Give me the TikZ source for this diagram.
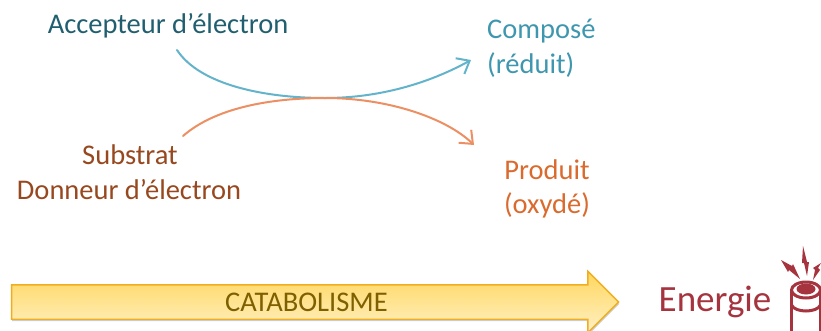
\documentclass[tikz,border=0pt]{standalone}
\usepackage{fontspec}
\setmainfont{Carlito}
\usetikzlibrary{arrows.meta,shapes.arrows,shadows}
\definecolor{accept}{HTML}{215F70}
\definecolor{compo}{HTML}{3F97AF}
\definecolor{subst}{HTML}{97481F}
\definecolor{prod}{HTML}{DA6A2E}
\definecolor{ener}{HTML}{A5343F}
\definecolor{cata}{HTML}{7F6000}
\definecolor{bluel}{HTML}{63B3CB}
\definecolor{orangel}{HTML}{EC8F62}
\definecolor{goldtop}{HTML}{FFD75E}
\definecolor{goldbot}{HTML}{FFF0C4}
\definecolor{goldline}{HTML}{F0AE1E}
\tikzset{
  lab/.style={font=\fontsize{28.5}{28.5}\selectfont, inner sep=0pt},
  flow/.style={line width=2pt, line cap=round, -{Straight Barb[length=11pt,width=18pt,line width=2pt]}},
  catarrow/.style={single arrow, draw=goldline, line width=1.4pt,
    top color=goldtop, bottom color=goldbot,
    font=\fontsize{28.5}{28.5}\selectfont, text=cata,
    text height=25.5pt, text depth=7.5pt, inner xsep=0pt, inner ysep=0pt,
    minimum height=607pt, minimum width=60pt,
    single arrow head extend=13.5pt, single arrow head indent=0pt,
    drop shadow={shadow xshift=0.5pt,shadow yshift=-2pt,fill=black!40}},
  bolt/.style={fill=ener, draw=none},
  batt/.style={draw=ener, line width=3pt},
}

\begin{document}
\begin{tikzpicture}[x=1pt,y=-1pt]
  \useasboundingbox (0,0) rectangle (821,330);
  % texts
  \node[lab,text=accept] (accepteur) at (168,26) {Accepteur d’électron};
  \node[lab,text=compo,anchor=west] (compose) at (487,31) {Composé};
  \node[lab,text=compo,anchor=west] (reduit) at (487,65) {(réduit)};
  \node[lab,text=subst] (substrat) at (130,155) {Substrat};
  \node[lab,text=subst] (donneur) at (129,190) {Donneur d’électron};
  \node[lab,text=prod] (produit) at (547,170) {Produit};
  \node[lab,text=prod] (oxyde) at (547,205) {(oxydé)};
  % curves
  \coordinate (bstart) at (177,50);
  \coordinate (bend) at (471,60);
  \coordinate (ostart) at (183,136);
  \coordinate (oend) at (474,145);
  \coordinate (mid) at (325,98);
  \draw[flow,bluel] (bstart) .. controls (200,85) and (265,98) .. (mid) .. controls (385,98) and (435,80) .. (bend);
  \draw[flow,orangel] (ostart) .. controls (215,108) and (270,98) .. (mid) .. controls (388,98) and (446,118) .. (oend);
  % big arrow
  \node[catarrow] (catabo) at (306.5,302) {CATABOLISME};
  \node[lab,text=ener,font=\fontsize{37}{37}\selectfont] (energie) at (715,302) {Energie};
  % battery
  \draw[batt,fill=white] (791.5,290) -- (791.5,336) -- (820.5,336) -- (820.5,290);
  \draw[batt,fill=white] (806,290) ellipse[x radius=14.5,y radius=8];
  \fill[ener] (806,289) ellipse[x radius=9.5,y radius=5.5];
  \draw[batt] (791.5,305) .. controls (795,313) and (817,313) .. (820.5,305);
  \fill[bolt] (803,246) -- (807,262) -- (809,262) -- (807,276) -- (804,263) -- (802,263) -- cycle;
  \fill[bolt] (781,260) -- (792,266) -- (793,264) -- (800,279) -- (789,270) -- (788,272) -- cycle;
  \fill[bolt] (821,263) -- (818,268) -- (820,270) -- (813,280) -- (815,270) -- (813,268) -- cycle;
\end{tikzpicture}
\end{document}
